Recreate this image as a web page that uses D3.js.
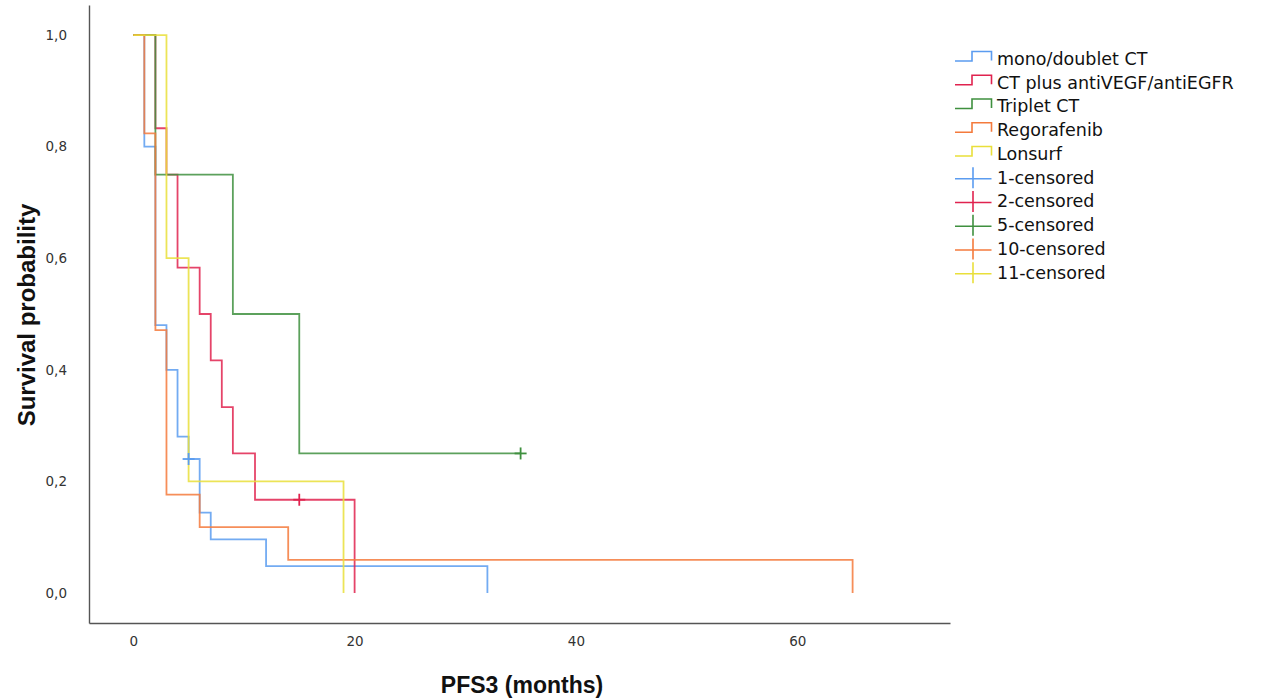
<!DOCTYPE html>
<html>
<head>
<meta charset="UTF-8">
<title>PFS3 survival</title>
<script src="https://d3js.org/d3.v7.min.js"></script>
<style>
  body { margin: 0; background: #fff; }
  .tick text { font-family: "DejaVu Sans", sans-serif; font-size: 13.5px; fill: #333; }
  .legend text { font-family: "DejaVu Sans", sans-serif; font-size: 17.5px; fill: #111; }
  .title { font-family: "Liberation Sans", Arial, sans-serif; font-weight: bold; fill: #111; }
</style>
</head>
<body>
<div id="chart"></div>
<script>
// group names + colours
var groups = ["mono/doublet CT", "CT plus antiVEGF/antiEGFR", "Triplet CT", "Regorafenib", "Lonsurf"];
var colors = ["#5b9cf0", "#e0234f", "#3f903f", "#f47a3c", "#e9df3a"];
var censorNames = ["1-censored", "2-censored", "5-censored", "10-censored", "11-censored"];

// step times and survival
var monoTime = [0, 1, 2, 3, 4, 5, 6, 7, 12, 32];
var monoSurv = [1, 0.8, 0.48, 0.4, 0.28, 0.24, 0.144, 0.096, 0.048, 0];
var ctTime = [0, 2, 3, 4, 6, 7, 8, 9, 11, 20];
var ctSurv = [1, 0.833, 0.75, 0.583, 0.5, 0.417, 0.333, 0.25, 0.167, 0];
var tripTime = [0, 2, 9, 15, 35];
var tripSurv = [1, 0.75, 0.5, 0.25, 0.25];
var regoTime = [0, 1, 2, 3, 6, 14, 65];
var regoSurv = [1, 0.824, 0.471, 0.176, 0.118, 0.059, 0];
var lonTime = [0, 3, 5, 19];
var lonSurv = [1, 0.6, 0.2, 0];

// censored marks [time, surv, group index]
var censored = [[5, 0.24, 0], [15, 0.167, 1], [35, 0.25, 2]];

var xTicks = [0, 20, 40, 60];
var yTicks = [0, 0.2, 0.4, 0.6, 0.8, 1.0];

var allTimes = [monoTime, ctTime, tripTime, regoTime, lonTime];
var allSurv = [monoSurv, ctSurv, tripSurv, regoSurv, lonSurv];

var width = 1273, height = 700;

var svg = d3.select("#chart").append("svg")
  .attr("width", width)
  .attr("height", height);

var xScale = d3.scaleLinear().domain([-4, 73.8]).range([89, 950]);
var yScale = d3.scaleLinear().domain([-0.054, 1.054]).range([623, 5]);

var fmt = function(d){ return d3.format(".1f")(d).replace(".", ","); };

// axes (no tick marks, SPSS style)
svg.append("g")
  .attr("transform", "translate(0,623)")
  .call(d3.axisBottom(xScale).tickValues(xTicks).tickSize(0).tickPadding(13));
svg.append("g")
  .attr("transform", "translate(89,0)")
  .call(d3.axisLeft(yScale).tickValues(yTicks).tickFormat(fmt).tickSize(0).tickPadding(22));
svg.selectAll(".domain").attr("stroke", "#555").attr("stroke-width", 1.4);

// curves
var line = d3.line()
  .x(function(d){ return xScale(d[0]); })
  .y(function(d){ return yScale(d[1]); })
  .curve(d3.curveStepAfter);

allTimes.forEach(function(t, i){
  var pts = t.map(function(v, j){ return [v, allSurv[i][j]]; });
  svg.append("path")
    .attr("d", line(pts))
    .attr("fill", "none")
    .attr("stroke", colors[i])
    .attr("stroke-width", 1.8)
    .attr("stroke-opacity", 0.85);
});

// censor crosses
censored.forEach(function(c){
  var cx = xScale(c[0]), cy = yScale(c[1]);
  var g = svg.append("g").attr("stroke", colors[c[2]]).attr("stroke-width", 1.8);
  g.append("line").attr("x1", cx - 6).attr("x2", cx + 6).attr("y1", cy).attr("y2", cy);
  g.append("line").attr("x1", cx).attr("x2", cx).attr("y1", cy - 6).attr("y2", cy + 6);
});

// legend
var legend = svg.append("g").attr("class", "legend");
var rowY = function(i){ return 58.5 + i * 23.75; };

groups.forEach(function(name, i){
  var y = rowY(i);
  legend.append("path")
    .attr("d", "M955," + (y + 2.5) + "H972V" + (y - 7) + "H991.5V" + (y + 2))
    .attr("fill", "none")
    .attr("stroke", colors[i])
    .attr("stroke-width", 1.6);
  legend.append("text").attr("x", 997).attr("y", y).attr("dy", "0.36em").text(name);
});

censorNames.forEach(function(name, k){
  var i = k + groups.length;
  var y = rowY(i);
  var g = legend.append("g").attr("stroke", colors[k]).attr("stroke-width", 1.6);
  g.append("line").attr("x1", 955).attr("x2", 991.5).attr("y1", y + 1.5).attr("y2", y + 1.5);
  g.append("line").attr("x1", 973).attr("x2", 973).attr("y1", y - 10).attr("y2", y + 11);
  legend.append("text").attr("x", 997).attr("y", y).attr("dy", "0.36em").text(name);
});

// axis titles
svg.append("text")
  .attr("class", "title")
  .attr("x", 522)
  .attr("y", 693)
  .attr("text-anchor", "middle")
  .style("font-size", "23px")
  .text("PFS3 (months)");

svg.append("text")
  .attr("class", "title")
  .attr("transform", "translate(35,315) rotate(-90)")
  .attr("text-anchor", "middle")
  .style("font-size", "24px")
  .text("Survival probability");
</script>
</body>
</html>
